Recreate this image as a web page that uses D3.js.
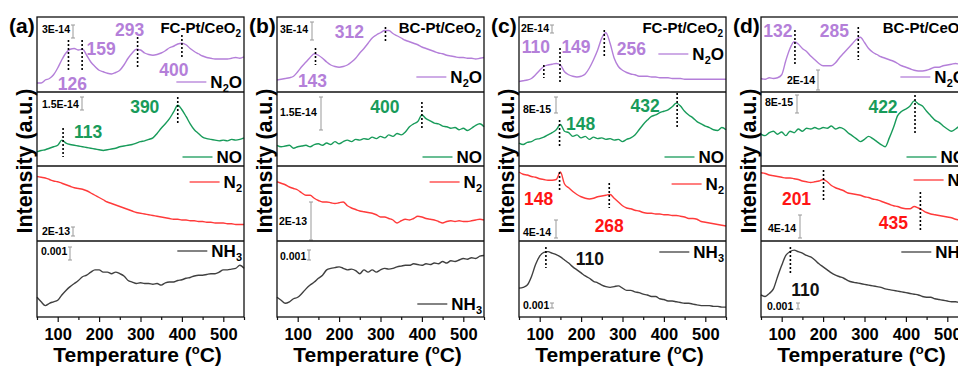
<!DOCTYPE html>
<html>
<head>
<meta charset="utf-8">
<script src="https://cdn.jsdelivr.net/npm/d3@7"></script>
<style>
  body { margin: 0; background: #fff; }
  svg { display: block; font-family: "Liberation Sans", Arial, sans-serif; font-weight: bold; }
</style>
</head>
<body>
<svg id="chart" width="958" height="367"></svg>
<script>
// temperature grid (°C)
const temps = [50,60,70,80,90,100,110,120,130,140,150,160,170,180,190,200,210,220,230,240,250,
  260,270,280,290,300,310,320,330,340,350,360,370,380,390,400,410,420,430,440,450,460,470,480,490,
  500,510,520,530,540,550];

// intensities (0 = strip bottom, 100 = strip top)
const aN2O = [12,12,16,18,23,32,43,52,57,58,56,57,49,40,34,29,27,25,24,26,29,36,45,52,57,56,52,50,49,50,52,55,59,61,64,65,63,58,54,51,48,46,45,44,44,44,44,45,46,45,47];
const aNO  = [19,21,22,24,26,28,35,31,29,28,27,26,25,24,23,22,21,22,23,24,26,27,28,29,31,33,34,36,38,44,51,57,64,73,82,76,67,57,49,44,39,37,36,35,34,35,34,36,35,36,38];
const aN2  = [86,85,84,82,80,79,77,75,73,71,70,69,67,64,61,58,55,52,50,48,46,44,42,40,38,37,36,35,34,33,32,31,30,29,29,28,28,27,27,26,26,25,25,24,24,24,23,23,22,22,22];
const aNH3 = [26,20,15,18,20,22,29,35,40,44,48,53,55,59,62,62,59,59,57,59,57,54,48,46,44,45,44,44,43,44,42,45,46,46,48,49,51,52,54,55,55,56,57,57,59,62,62,63,64,68,64];

const bN2O = [16,17,18,19,21,27,34,40,46,51,49,45,40,36,34,33,34,36,40,45,52,58,65,72,76,79,82,82,78,75,72,69,67,65,63,60,58,56,54,52,51,49,48,47,46,46,45,45,44,45,46];
const bNO  = [28,26,27,28,24,26,27,28,26,29,30,28,31,29,33,30,33,35,33,36,35,37,36,39,37,40,38,42,40,44,42,46,53,57,60,69,64,61,58,57,54,53,51,52,49,51,48,51,55,57,53];
const bN2  = [79,77,75,72,70,68,64,61,61,57,54,52,52,51,50,51,52,47,44,42,40,39,38,37,35,32,32,30,28,24,27,29,28,30,33,32,30,29,28,26,24,26,27,26,27,26,26,27,28,29,28];
const bNH3 = [26,22,18,20,24,26,31,37,42,46,51,55,62,64,65,66,64,62,63,61,57,62,59,62,59,62,64,63,64,66,67,68,68,70,69,68,70,69,71,70,73,71,74,73,75,77,76,78,77,80,81];

const cN2O = [14,15,16,18,23,29,34,36,37,38,36,27,23,21,20,21,24,32,43,56,72,79,65,45,34,29,26,24,23,21,21,21,20,20,19,19,19,18,18,18,17,17,17,17,17,17,17,17,17,17,17];
const cNO  = [31,29,32,33,36,37,39,42,45,49,56,47,45,40,42,38,40,36,39,37,38,36,37,35,36,33,36,38,42,49,56,62,67,69,72,74,76,80,85,81,74,69,65,60,57,54,52,49,48,52,49];
const cN2  = [92,89,88,86,85,83,82,81,81,82,92,76,71,66,62,59,57,56,57,59,60,61,62,57,52,47,44,43,41,40,38,37,37,36,36,35,35,34,34,33,32,30,30,29,26,25,24,23,22,21,20];
const cNH3 = [38,39,42,53,69,80,85,86,84,82,79,75,71,66,62,58,54,51,47,45,42,40,39,40,41,38,35,35,33,32,30,29,27,27,24,23,21,21,20,19,18,18,17,16,15,15,15,14,14,13,13];

const dN2O = [18,17,19,18,19,23,42,58,67,64,58,54,48,43,38,35,35,35,39,46,52,58,64,70,73,66,58,53,50,47,45,43,41,38,35,33,31,29,28,28,29,31,33,33,35,36,37,38,37,36,36];
const dNO  = [43,41,45,47,43,46,41,47,45,50,47,51,50,52,50,52,51,54,50,52,50,45,41,37,33,36,40,37,33,29,26,38,52,68,74,77,81,88,84,81,74,68,62,59,54,50,47,50,54,56,55];
const dN2  = [91,90,88,87,86,85,84,84,83,82,80,79,78,79,80,82,79,74,71,69,67,64,63,62,61,59,58,56,55,53,51,49,47,46,44,43,43,46,44,41,38,36,35,34,33,32,31,29,28,27,26];
const dNH3 = [29,27,31,37,53,68,81,86,88,86,84,81,79,75,70,66,62,58,55,53,51,48,46,45,44,43,42,41,40,39,37,36,35,34,33,32,31,30,29,27,26,26,24,23,22,21,20,20,19,19,18];

const gases = ['N_2O', 'NO', 'N_2', 'NH_3'];
const lineColors = ['#b47fd9', '#189b5a', '#ff3a3a', '#404040'];
const labelColors = ['#b47fd9', '#189b5a', '#ff1414', '#111'];
const majorTicks = [100, 200, 300, 400, 500];
const minorTicks = [50, 150, 250, 350, 450, 550];

// peak markers: [strip, temperature, label]
const aPeaks = [[0,126,'126'],[0,159,'159'],[0,293,'293'],[0,400,'400'],[1,113,'113'],[1,390,'390']];
const bPeaks = [[0,143,'143'],[0,312,'312'],[1,400,'400']];
const cPeaks = [[0,110,'110'],[0,149,'149'],[0,256,'256'],[1,148,'148'],[1,432,'432'],[2,148,'148'],[2,268,'268'],[3,115,'110']];
const dPeaks = [[0,132,'132'],[0,285,'285'],[1,422,'422'],[2,201,'201'],[2,435,'435'],[3,121,'110']];

// scale-bar labels per strip
const aBars = ['3E-14', '1.5E-14', '2E-13', '0.001'];
const bBars = ['3E-14', '1.5E-14', '2E-13', '0.001'];
const cBars = ['2E-14', '8E-15', '4E-14', '0.001'];
const dBars = ['2E-14', '8E-15', '4E-14', '0.001'];

// layout only (offsets in px)
// peak: [label dx, label baseline from strip top, dotted y1, dotted y2]
const aPeakPos = [[4,73,23,53],[19,38,23,53],[-8,19,20,50],[-8,59,18,40],[25,46,36,65],[-33,21,5,33]];
const bPeakPos = [[-3,70,31,48],[-36,21,10,26],[-37,21,10,38]];
const cPeakPos = [[-8,36,48,61],[16,36,31,65],[27,38,13,41],[21,38,28,56],[-32,20,1,35],[-21,39,6,24],[0,66,17,42],[44,24,6,27]];
const dPeakPos = [[-17,20,13,48],[-24,20,10,43],[-32,21,3,43],[-27,39,4,34],[-27,63,26,64],[15,55,6,34]];
// scale bar: [text dx, text baseline, bar dx, bar y1, bar y2]
const aBarPos = [[5,16,36,8,21],[5,16,45,5,18],[5,69,36,61,70],[4,14,33,6,19]];
const bBarPos = [[3,16,35,5,23],[3,24,44,5,38],[2,59,34,36,74],[3,19,32,9,19]];
const cBarPos = [[2,15,33,8,16],[4,21,37,5,21],[4,70,37,54,72],[4,68,33,62,67]];
const dBarPos = [[26,67,57,53,73],[4,14,36,3,21],[7,66,39,49,72],[6,69,37,62,68]];
// legend baselines from strip top
const aLeg = [71,71,22,16], bLeg = [66,71,22,69], cLeg = [43,71,24,17], dLeg = [66,71,20,17];

const panels = [
  { tag: '(a)', sample: 'FC-Pt/CeO_2', x0: 37,  series: [aN2O,aNO,aN2,aNH3], peaks: aPeaks, peakPos: aPeakPos, bars: aBars, barPos: aBarPos, leg: aLeg },
  { tag: '(b)', sample: 'BC-Pt/CeO_2', x0: 277, series: [bN2O,bNO,bN2,bNH3], peaks: bPeaks, peakPos: bPeakPos, bars: bBars, barPos: bBarPos, leg: bLeg },
  { tag: '(c)', sample: 'FC-Pt/CeO_2', x0: 519, series: [cN2O,cNO,cN2,cNH3], peaks: cPeaks, peakPos: cPeakPos, bars: cBars, barPos: cBarPos, leg: cLeg },
  { tag: '(d)', sample: 'BC-Pt/CeO_2', x0: 761, series: [dN2O,dNO,dN2,dNH3], peaks: dPeaks, peakPos: dPeakPos, bars: dBars, barPos: dBarPos, leg: dLeg }
];

const svg = d3.select('#chart');
const W = 207;
const rowTop = [17, 92, 166, 241];
const rowBot = [92, 166, 241, 317];

// writes "N_2O" style strings with subscripts
function rich(textSel, str, subSize) {
  const tokens = [];
  let buf = '';
  for (let k = 0; k < str.length; k++) {
    if (str[k] === '_') {
      if (buf) tokens.push([buf, false]);
      buf = '';
      tokens.push([str[k + 1], true]);
      k++;
    } else buf += str[k];
  }
  if (buf) tokens.push([buf, false]);
  let down = false;
  tokens.forEach(([t, s]) => {
    const ts = textSel.append('tspan').text(t);
    if (s) { ts.attr('font-size', subSize).attr('dy', down ? 0 : 4); down = true; }
    else if (down) { ts.attr('dy', -4); down = false; }
  });
  return textSel;
}

panels.forEach(p => {
  const x = d3.scaleLinear().domain([50, 550]).range([p.x0, p.x0 + W]);
  const xr = p.x0 + W;
  const g = svg.append('g');

  // traces
  p.series.forEach((vals, r) => {
    const y = d3.scaleLinear().domain([0, 100]).range([rowBot[r], rowTop[r]]);
    const line = d3.line().x((d, i) => x(temps[i])).y(d => y(d)).curve(d3.curveMonotoneX);
    g.append('path').datum(vals)
      .attr('d', line)
      .attr('fill', 'none')
      .attr('stroke', lineColors[r])
      .attr('stroke-width', 1.4);

    // legend
    const ly = rowTop[r] + p.leg[r];
    const lt = g.append('text')
      .attr('x', xr - 2).attr('y', ly)
      .attr('text-anchor', 'end')
      .attr('font-size', 17)
      .attr('fill', '#000');
    rich(lt, gases[r], 11);
    const bb = lt.node().getBBox();
    g.append('line')
      .attr('x1', bb.x - 34).attr('x2', bb.x - 4)
      .attr('y1', ly - 6).attr('y2', ly - 6)
      .attr('stroke', lineColors[r]).attr('stroke-width', 1.3);

    // scale bar
    const sp = p.barPos[r];
    g.append('text')
      .attr('x', p.x0 + sp[0]).attr('y', rowTop[r] + sp[1])
      .attr('font-size', 10.5).attr('fill', '#000')
      .text(p.bars[r]);
    const bx = p.x0 + sp[2];
    g.append('path')
      .attr('d', `M${bx - 2},${rowTop[r] + sp[3]}H${bx + 2}M${bx},${rowTop[r] + sp[3]}V${rowTop[r] + sp[4]}M${bx - 2},${rowTop[r] + sp[4]}H${bx + 2}`)
      .attr('stroke', '#999').attr('stroke-width', 1).attr('fill', 'none');
  });

  // peak markers
  p.peaks.forEach((pk, i) => {
    const [r, t, label] = pk;
    const pos = p.peakPos[i];
    const px = x(t);
    g.append('line')
      .attr('x1', px).attr('x2', px)
      .attr('y1', rowTop[r] + pos[2]).attr('y2', rowTop[r] + pos[3])
      .attr('stroke', '#000').attr('stroke-width', 1.6)
      .attr('stroke-dasharray', '2,2');
    g.append('text')
      .attr('x', px + pos[0]).attr('y', rowTop[r] + pos[1])
      .attr('text-anchor', 'middle')
      .attr('font-size', 17.5)
      .attr('fill', labelColors[r])
      .text(label);
  });

  // sample name
  const st = g.append('text')
    .attr('x', xr - 3).attr('y', rowTop[0] + 16)
    .attr('text-anchor', 'end').attr('font-size', 15).attr('fill', '#000');
  rich(st, p.sample, 10);

  // frame and strip dividers
  g.append('rect')
    .attr('x', p.x0).attr('y', rowTop[0])
    .attr('width', W).attr('height', rowBot[3] - rowTop[0])
    .attr('fill', 'none').attr('stroke', '#111').attr('stroke-width', 1.3);
  [1, 2, 3].forEach(r => {
    g.append('line')
      .attr('x1', p.x0).attr('x2', xr)
      .attr('y1', rowTop[r]).attr('y2', rowTop[r])
      .attr('stroke', '#111').attr('stroke-width', 1.3);
  });

  // x axis
  const ax = g.append('g').attr('transform', `translate(0,${rowBot[3]})`)
    .call(d3.axisBottom(x).tickValues(majorTicks).tickSize(5).tickFormat(d3.format('d')));
  ax.select('.domain').remove();
  ax.selectAll('line').attr('stroke', '#111').attr('stroke-width', 1.2);
  ax.selectAll('text')
    .attr('y', 23).attr('dy', null)
    .attr('font-size', 16.5).attr('font-weight', 'bold')
    .attr('font-family', '"Liberation Sans", Arial, sans-serif')
    .attr('fill', '#000');
  const axm = g.append('g').attr('transform', `translate(0,${rowBot[3]})`)
    .call(d3.axisBottom(x).tickValues(minorTicks).tickSize(3).tickFormat(''));
  axm.select('.domain').remove();
  axm.selectAll('line').attr('stroke', '#111').attr('stroke-width', 1.2);

  // axis titles
  const tt = g.append('text')
    .attr('x', p.x0 + W / 2 - 3).attr('y', 362)
    .attr('text-anchor', 'middle').attr('font-size', 21).attr('fill', '#000');
  tt.append('tspan').text('Temperature (');
  tt.append('tspan').text('o').attr('font-size', 13).attr('dy', -8);
  tt.append('tspan').text('C)').attr('dy', 8);

  g.append('text')
    .attr('transform', `translate(${p.x0 - 5},161) rotate(-90)`)
    .attr('text-anchor', 'middle').attr('font-size', 22)
    .attr('textLength', 145).attr('lengthAdjust', 'spacingAndGlyphs')
    .attr('fill', '#000')
    .text('Intensity (a.u.)');

  g.append('text')
    .attr('x', p.x0 - 28).attr('y', 33)
    .attr('font-size', 21).attr('fill', '#000')
    .text(p.tag);
});
</script>
</body>
</html>
